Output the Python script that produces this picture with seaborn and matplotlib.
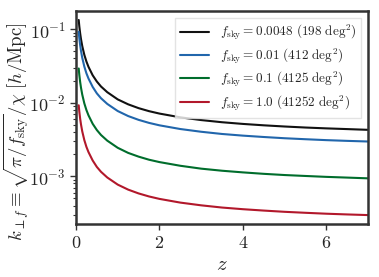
import pandas as pd
import matplotlib.pyplot as plt
import seaborn as sns

# redshift grid
z = [0.065, 0.08, 0.1, 0.12, 0.15, 0.2, 0.25, 0.3, 0.4, 0.5, 0.6, 0.75,
     1.0, 1.25, 1.5, 1.75, 2.0, 2.5, 3.0, 3.5, 4.0, 4.5, 5.0, 5.5, 6.0, 6.5, 7.0]

# k_perp_f [h/Mpc] per survey area
k_0048 = [0.1333, 0.1087, 0.0874, 0.0732, 0.0589, 0.0447, 0.0363, 0.0307,
          0.0236, 0.0194, 0.0166, 0.0139, 0.0111, 0.00951, 0.00844, 0.00768,
          0.00712, 0.00633, 0.00581, 0.00543, 0.00515, 0.00493, 0.00475,
          0.00460, 0.00448, 0.00438, 0.00428]
k_001 = [0.0923, 0.0753, 0.0606, 0.0507, 0.0408, 0.0310, 0.0251, 0.0213,
         0.0164, 0.0134, 0.0115, 0.00963, 0.00771, 0.00659, 0.00585, 0.00532,
         0.00493, 0.00439, 0.00403, 0.00376, 0.00357, 0.00342, 0.00329,
         0.00319, 0.00310, 0.00303, 0.00297]
k_01 = [0.0292, 0.0238, 0.0191, 0.0160, 0.0129, 0.00979, 0.00795, 0.00673,
        0.00517, 0.00425, 0.00364, 0.00305, 0.00244, 0.00208, 0.00185,
        0.00168, 0.00156, 0.00139, 0.00127, 0.00119, 0.00113, 0.00108,
        0.00104, 0.00101, 0.000982, 0.000960, 0.000938]
k_1 = [0.00923, 0.00753, 0.00606, 0.00507, 0.00408, 0.00310, 0.00251, 0.00213,
       0.00164, 0.00134, 0.00115, 0.000963, 0.000771, 0.000659, 0.000585,
       0.000532, 0.000493, 0.000439, 0.000403, 0.000376, 0.000357, 0.000342,
       0.000329, 0.000319, 0.000310, 0.000303, 0.000297]

labels = [r'$f_{\rm sky} = 0.0048\ (198\ {\rm deg}^2)$',
          r'$f_{\rm sky} = 0.01\ (412\ {\rm deg}^2)$',
          r'$f_{\rm sky} = 0.1\ (4125\ {\rm deg}^2)$',
          r'$f_{\rm sky} = 1.0\ (41252\ {\rm deg}^2)$']
colors = ['#111111', '#2166ac', '#006d2c', '#b2182b']

df = pd.concat([pd.DataFrame({'z': z, 'k': k, 'survey': lab})
                for k, lab in zip([k_0048, k_001, k_01, k_1], labels)])

sns.set_style("ticks")
plt.rcParams['font.family'] = 'serif'
plt.rcParams['font.serif'] = ['cmr10', 'DejaVu Serif']
plt.rcParams['mathtext.fontset'] = 'cm'
plt.rcParams['axes.formatter.use_mathtext'] = True

fig = plt.figure(figsize=(3.79, 2.77), dpi=100)
ax = fig.add_axes([0.2005, 0.191, 0.7705, 0.769])
sns.lineplot(data=df, x='z', y='k', hue='survey', palette=colors,
             linewidth=1.5, ax=ax)
ax.set_yscale('log')
ax.set_xlim(0, 7)
ax.set_ylim(2.24e-4, 0.176)
ax.set_xticks([0, 2, 4, 6])

ax.set_xlabel(r'$z$', fontsize=15)
ax.set_ylabel(r'$k_{\perp f} \equiv \sqrt{\pi / f_{\rm sky}} / \chi\ [h/{\rm Mpc}]$',
              fontsize=13.5)
ax.yaxis.set_label_coords(-0.155, 0.432)
ax.tick_params(labelsize=13, width=1, length=4, color='#333333')
ax.tick_params(which='minor', width=0.8, length=2.5, color='#333333')
for s in ax.spines.values():
    s.set_linewidth(1.8)
    s.set_color('#333333')

ax.legend(loc='upper right', fontsize=9.5, frameon=True, fancybox=False,
          edgecolor='#dddddd', handlelength=2.2, borderpad=0.4,
          labelspacing=0.3, title=None)

fig.savefig('out.png', dpi=100)
